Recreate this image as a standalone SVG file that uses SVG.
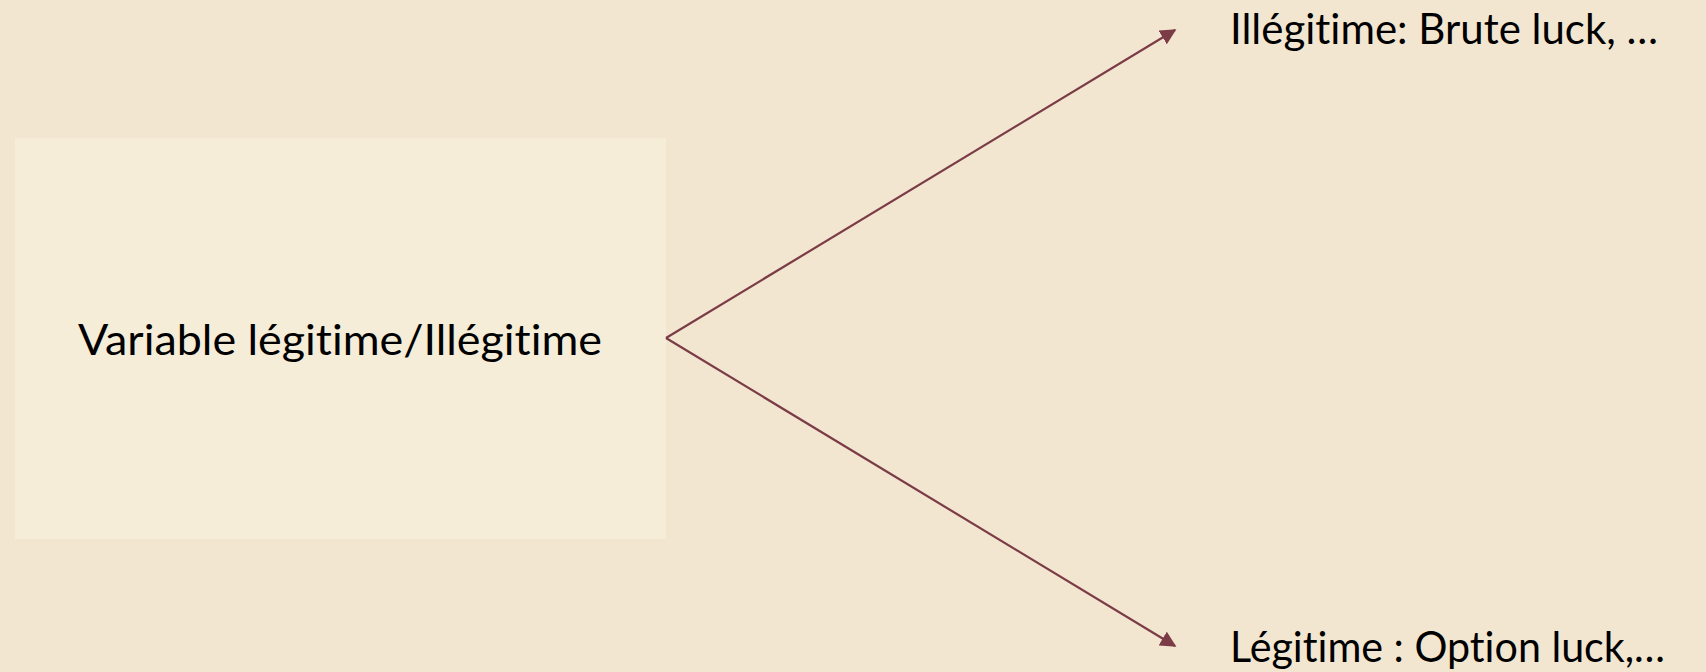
<svg xmlns="http://www.w3.org/2000/svg" width="1706" height="672" viewBox="0 0 1706 672">
<style>
.t{font-family:"Lato","Open Sans","Liberation Sans",sans-serif;font-size:42px;fill:#000;font-variant-ligatures:none}
.c{stroke:#7B3B47;stroke-width:2.2;fill:none}
</style>
<defs>
<marker id="ah2" viewBox="0 0 10 10" refX="9" refY="5" markerWidth="16" markerHeight="16" markerUnits="userSpaceOnUse" orient="auto"><path d="M0,0 L10,5 L0,10 z" fill="#7B3B47"/></marker>
</defs>
<rect width="1706" height="672" fill="#F2E6D0"/>
<g id="node-source">
<rect x="15" y="138" width="651" height="401" fill="#F5EDD8"/>
<text class="t" x="78" y="355" textLength="524" lengthAdjust="spacingAndGlyphs">Variable légitime/Illégitime</text>
</g>
<g id="node-illegitime">
<text class="t" x="1230" y="44" textLength="428" lengthAdjust="spacingAndGlyphs">Illégitime: Brute luck, …</text>
</g>
<g id="node-legitime">
<text class="t" x="1230" y="662" textLength="435" lengthAdjust="spacingAndGlyphs">Légitime : Option luck,…</text>
</g>
<g id="connectors">
<line class="c" x1="666" y1="338" x2="1175" y2="30" marker-end="url(#ah2)"/>
<line class="c" x1="666" y1="338" x2="1175" y2="646" marker-end="url(#ah2)"/>
</g>
</svg>
